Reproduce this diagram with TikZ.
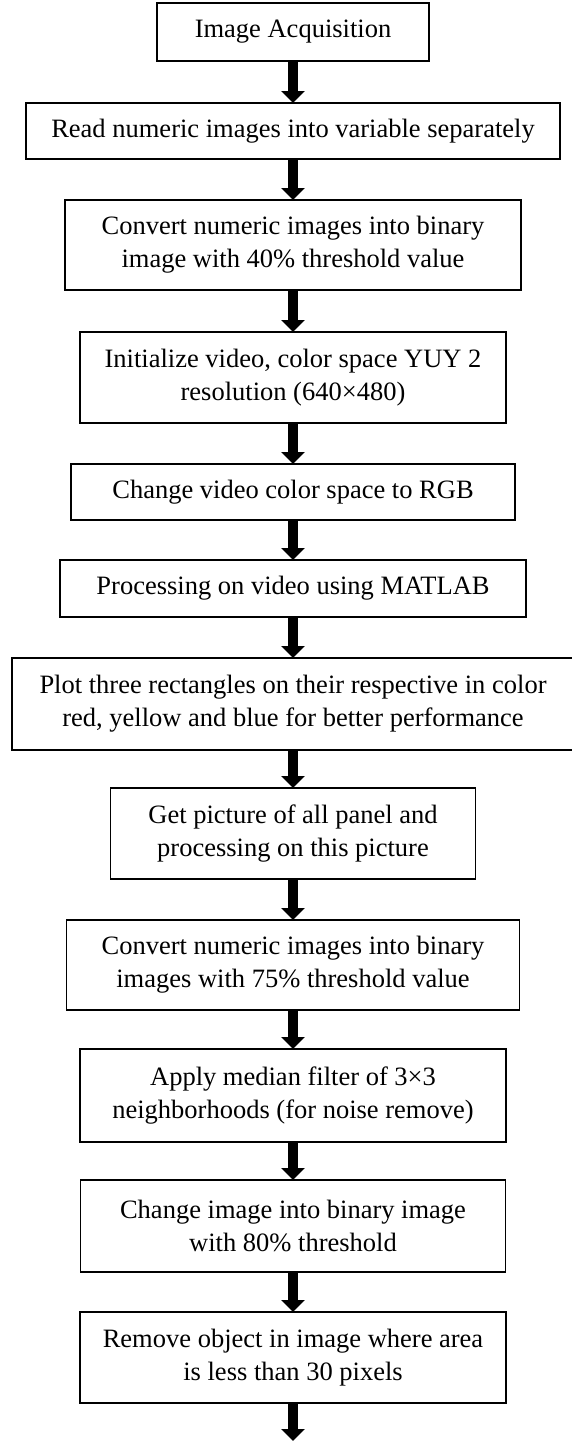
\documentclass[tikz,border=0pt]{standalone}
\usepackage{fontspec}
\setmainfont{Liberation Serif}
\usetikzlibrary{arrows.meta}

\begin{document}
\begin{tikzpicture}[x=1pt,y=-1pt,>={Triangle[width=23pt,length=12pt]},
  box/.style={draw,line width=1.6pt,inner sep=0pt,outer sep=0pt,align=center,anchor=north,
    font=\fontsize{26.5}{33}\selectfont},
  flow/.style={->,line width=10pt}]

\useasboundingbox (0,0) rectangle (572,1441);

\node (acq) at (293,3) [box,minimum width=272pt,minimum height=58pt] {Image Acquisition};

\node (read) at (293,103) [box,minimum width=534pt,minimum height=56pt] {Read numeric images into variable separately};

\node (bin40) at (293,200) [box,minimum width=456pt,minimum height=90pt]
  {Convert numeric images into binary\\image with 40\% threshold value};

\node (init) at (293,332) [box,minimum width=426pt,minimum height=91pt]
  {Initialize video, color space YUY 2\\resolution (640×480)};

\node (rgb) at (293,464) [box,minimum width=444pt,minimum height=56pt] {Change video color space to RGB};

\node (matlab) at (293,560) [box,minimum width=466pt,minimum height=57pt] {Processing on video using MATLAB};

\node (rects) at (293,658) [box,minimum width=562pt,minimum height=92pt]
  {Plot three rectangles on their respective in color\\red, yellow and blue for better performance};

\node (panel) at (293,788) [box,minimum width=365pt,minimum height=91pt]
  {Get picture of all panel and\\processing on this picture};

\node (bin75) at (293,920) [box,minimum width=453pt,minimum height=90pt]
  {Convert numeric images into binary\\images with 75\% threshold value};

\node (median) at (293,1049) [box,minimum width=426pt,minimum height=93pt]
  {Apply median filter of 3×3\\neighborhoods (for noise remove)};

\node (bin80) at (293,1180) [box,minimum width=425pt,minimum height=92pt]
  {Change image into binary image\\with 80\% threshold};

\node (remove) at (293,1312) [box,minimum width=426pt,minimum height=91pt]
  {Remove object in image where area\\is less than 30 pixels};

\coordinate (out) at (293,1441);

\path [flow]
    (acq.south) edge (read.north)
    (read.south) edge (bin40.north)
    (bin40.south) edge (init.north)
    (init.south) edge (rgb.north)
    (rgb.south) edge (matlab.north)
    (matlab.south) edge (rects.north)
    (rects.south) edge (panel.north)
    (panel.south) edge (bin75.north)
    (bin75.south) edge (median.north)
    (median.south) edge (bin80.north)
    (bin80.south) edge (remove.north)
    (remove.south) edge (out)
;

\end{tikzpicture}
\end{document}
